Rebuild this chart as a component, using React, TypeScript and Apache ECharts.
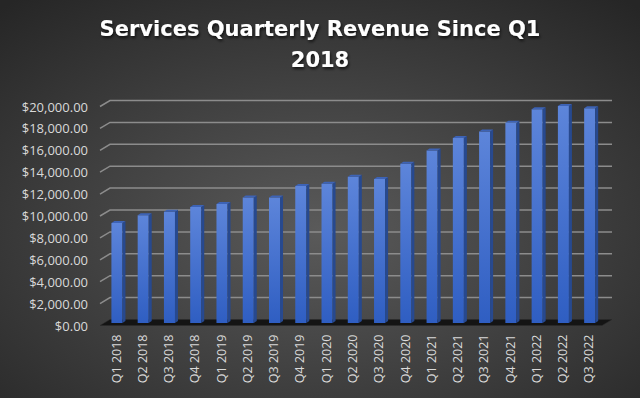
import React, { useEffect, useRef } from "react";
import * as echarts from "echarts";

const categories = [
  "Q1 2018", "Q2 2018", "Q3 2018", "Q4 2018",
  "Q1 2019", "Q2 2019", "Q3 2019", "Q4 2019",
  "Q1 2020", "Q2 2020", "Q3 2020", "Q4 2020",
  "Q1 2021", "Q2 2021", "Q3 2021", "Q4 2021",
  "Q1 2022", "Q2 2022", "Q3 2022",
];
const revenue = [
  9129, 9850, 10170, 10591,
  10875, 11450, 11455, 12511,
  12715, 13348, 13156, 14549,
  15761, 16901, 17486, 18277,
  19516, 19821, 19604,
];
const yTicks = [0, 2000, 4000, 6000, 8000, 10000, 12000, 14000, 16000, 18000, 20000];

const FONT = "'Open Sans', 'Noto Sans', sans-serif";
const TITLE_FONT = "'DejaVu Sans', 'Open Sans', sans-serif";

export default function App() {
  const ref = useRef<HTMLDivElement>(null);
  useEffect(() => {
    if (!ref.current) return;
    const chart = echarts.init(ref.current, undefined, { renderer: "svg" });
    const DX = 10, DY = -6; // wall depth offset
    const option: any = {
      animation: false,
      backgroundColor: {
        type: "radial", x: 0.5, y: 0.58, r: 0.75,
        colorStops: [
          { offset: 0, color: "#5a5a5a" },
          { offset: 1, color: "#262626" },
        ],
      },
      title: {
        text: "Services Quarterly Revenue Since Q1\n2018",
        left: "center",
        top: 9,
        textStyle: {
          color: "#ffffff",
          fontSize: 21,
          fontWeight: "bold",
          fontFamily: TITLE_FONT,
          lineHeight: 30.5,
          textShadowColor: "rgba(0,0,0,0.7)",
          textShadowBlur: 3,
          textShadowOffsetX: 1,
          textShadowOffsetY: 2,
        },
      },
      grid: { left: 103, right: 38, top: 106.5, bottom: 72.5 },
      xAxis: {
        type: "category",
        data: categories,
        axisLine: { show: false },
        axisTick: { show: false },
        axisLabel: {
          rotate: 90,
          interval: 0,
          margin: 9,
          color: "#d9d9d9",
          fontSize: 12.5,
          fontFamily: FONT,
        },
      },
      yAxis: {
        type: "value",
        min: 0,
        max: 20000,
        interval: 2000,
        axisLine: { show: false },
        axisTick: { show: false },
        splitLine: { show: false },
        axisLabel: {
          margin: 15,
          color: "#d9d9d9",
          fontSize: 13,
          fontFamily: FONT,
          formatter: (v: number) =>
            "$" + v.toLocaleString("en-US", { minimumFractionDigits: 2, maximumFractionDigits: 2 }),
        },
      },
      series: [
        {
          type: "custom",
          name: "floor",
          clip: false,
          z: 1,
          data: [[0, 0]],
          encode: { x: 0, y: 1 },
          renderItem: (params: any, api: any) => {
            const cs = params.coordSys;
            const x0 = cs.x - 3, x1 = cs.x + cs.width;
            const yb = cs.y + cs.height;
            return {
              type: "polygon",
              shape: {
                points: [
                  [x0, yb], [x1, yb], [x1 + DX, yb + DY], [x0 + DX, yb + DY],
                ],
              },
              style: { fill: "#141414", stroke: "#2a2a2a", lineWidth: 0.5 },
            };
          },
        },
        {
          type: "custom",
          name: "grid",
          clip: false,
          z: 2,
          data: yTicks.slice(1).map((t) => [0, t]),
          encode: { x: 0, y: 1 },
          renderItem: (params: any, api: any) => {
            const cs = params.coordSys;
            const y = api.coord([0, api.value(1)])[1];
            const x0 = cs.x - 3;
            const x1 = cs.x + cs.width;
            return {
              type: "polyline",
              shape: {
                points: [[x0, y], [x0 + DX, y + DY], [x1 + DX, y + DY]],
              },
              style: { stroke: "#8c8c8c", lineWidth: 1.5, fill: "none" },
            };
          },
        },
        {
          type: "custom",
          name: "Services Revenue",
          clip: false,
          z: 3,
          data: revenue.map((v, i) => [i, v]),
          encode: { x: 0, y: 1 },
          renderItem: (params: any, api: any) => {
            const i = api.value(0);
            const v = api.value(1);
            const top = api.coord([i, v]);
            const bot = api.coord([i, 0]);
            const band = api.size([1, 0])[0];
            const w = band * 0.42;
            const sx = 0.8, sy = -2.5;
            const x0 = top[0] - w / 2 + sx;
            const x1 = x0 + w;
            const yT = top[1] + sy;
            const yB = bot[1] + sy;
            const dx = 3, dy = -2;
            return {
              type: "group",
              children: [
                {
                  type: "rect",
                  shape: { x: x0, y: yT, width: w, height: yB - yT },
                  style: {
                    fill: new echarts.graphic.LinearGradient(0, 0, 0, 1, [
                      { offset: 0, color: "#5d85da" },
                      { offset: 1, color: "#2f5ec2" },
                    ]),
                  },
                },
                {
                  type: "polygon",
                  shape: {
                    points: [[x1, yT], [x1 + dx, yT + dy], [x1 + dx, yB + dy], [x1, yB]],
                  },
                  style: { fill: "#27498f" },
                },
                {
                  type: "polygon",
                  shape: {
                    points: [[x0, yT], [x1, yT], [x1 + dx, yT + dy], [x0 + dx, yT + dy]],
                  },
                  style: { fill: "#3d63b6" },
                },
              ],
            };
          },
        },
      ],
    };
    chart.setOption(option);
    return () => chart.dispose();
  }, []);
  return (
    <div
      ref={ref}
      style={{ position: "absolute", left: 0, top: 0, width: 640, height: 398 }}
    />
  );
}
